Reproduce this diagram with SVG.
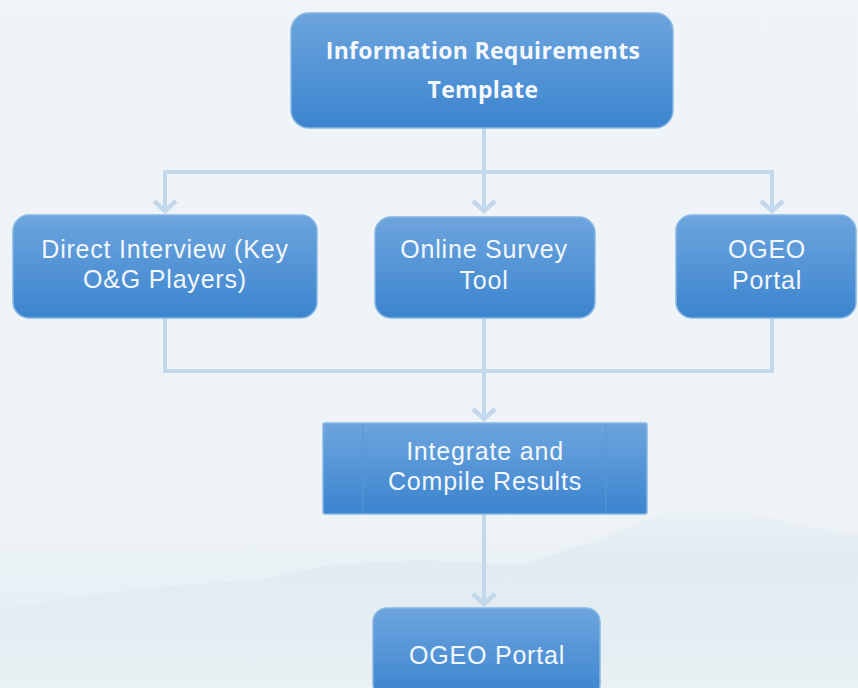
<svg xmlns="http://www.w3.org/2000/svg" width="858" height="688" viewBox="0 0 858 688">
<defs>
<linearGradient id="bg" x1="0" y1="0" x2="0" y2="1">
<stop offset="0" stop-color="#eef4f8"/>
<stop offset="0.75" stop-color="#edf3f7"/>
<stop offset="1" stop-color="#e3edf3"/>
</linearGradient>
<linearGradient id="box" x1="0" y1="0" x2="0" y2="1">
<stop offset="0" stop-color="#6da5dd"/>
<stop offset="1" stop-color="#3b84cf"/>
</linearGradient>
<linearGradient id="mtn" x1="0" y1="0" x2="0" y2="1">
<stop offset="0" stop-color="#dfe9f0" stop-opacity="0"/>
<stop offset="0.3" stop-color="#dde8ef" stop-opacity="0.7"/>
<stop offset="1" stop-color="#eaf1f5"/>
</linearGradient>
<marker id="arr" viewBox="0 0 16 26" refX="14" refY="13" markerWidth="16" markerHeight="26" markerUnits="userSpaceOnUse" orient="auto">
<polyline points="3,2 13,13 3,24" fill="none" stroke="#c4d8eb" stroke-width="4.5"/>
</marker>
<style>
.nd{fill:url(#box);stroke:#86b6e2;stroke-width:1.5}
.tx{font-family:"Liberation Sans",Arial,sans-serif;font-size:25px;letter-spacing:0.8px;fill:#f2f7fc;text-anchor:middle}
.tb{font-family:"Open Sans","Liberation Sans",sans-serif;font-size:23px;letter-spacing:0.3px;font-weight:bold;fill:#f4f8fc;text-anchor:middle}
.cn{fill:none;stroke:#c4d8eb;stroke-width:4}
</style>
</defs>
<rect width="858" height="688" fill="url(#bg)"/>
<path d="M0,610 L90,595 L180,585 L260,580 L330,565 L420,560 L520,565 L600,540 L690,500 L740,510 L800,525 L858,535 L858,688 L0,688 Z" fill="url(#mtn)"/>
<g id="connectors">
<path class="cn" d="M484,128 V212" marker-end="url(#arr)"/>
<path class="cn" d="M484,172 H165 V212" marker-end="url(#arr)"/>
<path class="cn" d="M484,172 H772 V212" marker-end="url(#arr)"/>
<path class="cn" d="M165,318 V371 H772 V318"/>
<path class="cn" d="M484,318 V420" marker-end="url(#arr)"/>
<path class="cn" d="M484,514 V605" marker-end="url(#arr)"/>
</g>
<g id="n-template">
<rect class="nd" x="291" y="13" width="382" height="115" rx="18"/>
<text class="tb" x="483" y="59">Information Requirements</text>
<text class="tb" x="483" y="98">Template</text>
</g>
<g id="n-interview">
<rect class="nd" x="13" y="215" width="304" height="103" rx="16"/>
<text class="tx" x="165" y="258">Direct Interview (Key</text>
<text class="tx" x="165" y="288">O&amp;G Players)</text>
</g>
<g id="n-survey">
<rect class="nd" x="375" y="217" width="220" height="101" rx="16"/>
<text class="tx" x="484" y="258">Online Survey</text>
<text class="tx" x="484" y="289">Tool</text>
</g>
<g id="n-ogeo1">
<rect class="nd" x="676" y="215" width="180" height="103" rx="16"/>
<text class="tx" x="767" y="258">OGEO</text>
<text class="tx" x="767" y="289">Portal</text>
</g>
<g id="n-integrate">
<rect class="nd" x="323" y="423" width="324" height="91" rx="2"/>
<line x1="363" y1="424" x2="363" y2="513" stroke="#5b97d6" stroke-width="1"/>
<line x1="606" y1="424" x2="606" y2="513" stroke="#5b97d6" stroke-width="1"/>
<text class="tx" x="485" y="460">Integrate and</text>
<text class="tx" x="485" y="490">Compile Results</text>
</g>
<g id="n-ogeo2">
<rect class="nd" x="373" y="608" width="227" height="90" rx="14"/>
<text class="tx" x="487" y="664">OGEO Portal</text>
</g>
</svg>
